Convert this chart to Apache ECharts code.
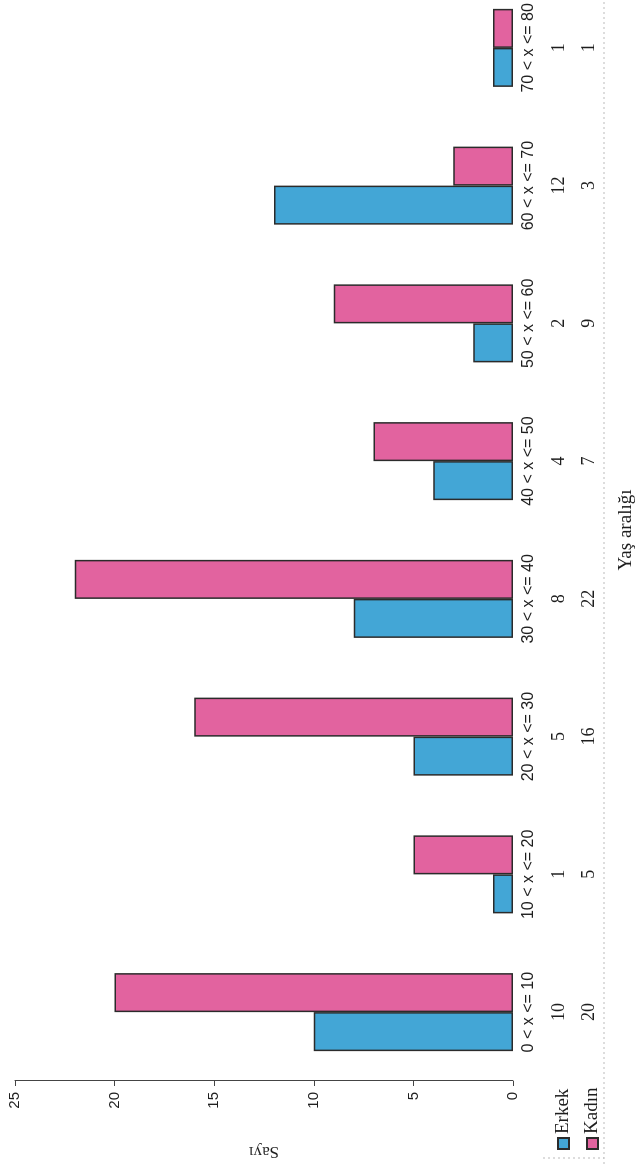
<!DOCTYPE html>
<html><head><meta charset="utf-8">
<script src="https://cdn.jsdelivr.net/npm/echarts@6/dist/echarts.min.js"></script>
<style>
html,body{margin:0;padding:0;background:#fff;overflow:hidden;width:638px;height:1164px;}
#chart{position:absolute;width:1164px;height:638px;left:-263px;top:263px;transform:rotate(-90deg);}
</style></head><body><div id="chart"></div>
<script>
const categories = ['0 < x <= 10','10 < x <= 20','20 < x <= 30','30 < x <= 40','40 < x <= 50','50 < x <= 60','60 < x <= 70','70 < x <= 80'];
const erkek = [10, 1, 5, 8, 4, 2, 12, 1];
const kadin = [20, 5, 16, 22, 7, 9, 3, 1];
const seriesNames = ['Erkek', 'Kadın'];
const valueMin = 0, valueMax = 25, valueStep = 5;

const ink = '#1e1e1e';
const chart = echarts.init(document.getElementById('chart'), null, {renderer: 'canvas', width: 1164, height: 638});
chart.setOption({
  backgroundColor: '#ffffff',
  animation: false,
  grid: {left: 83, top: 15, width: 1102, height: 498, outerBoundsMode: 'none', containLabel: false},
  legend: {
    orient: 'vertical', left: 9, top: 549, itemWidth: 11, itemHeight: 11, itemGap: 10, icon: 'rect',
    data: seriesNames,
    textStyle: {fontFamily: 'Liberation Serif', fontSize: 19, color: ink, padding: [0, 0, 0, -1]}
  },
  xAxis: {
    type: 'category', data: categories, position: 'bottom',
    axisLine: {show: false}, axisTick: {show: false},
    axisLabel: {
      interval: 0, margin: 1,
      formatter: function (v, i) { return '{c|' + v + '}\n{n|' + erkek[i] + '}\n{n|' + kadin[i] + '}'; },
      rich: {
        c: {fontFamily: 'Liberation Sans', fontSize: 16, lineHeight: 30, color: ink},
        n: {fontFamily: 'Liberation Serif', fontSize: 18, lineHeight: 30, color: ink}
      }
    },
    name: 'Yaş aralığı', nameLocation: 'middle', nameGap: 104,
    nameTextStyle: {fontFamily: 'Liberation Serif', fontSize: 19, color: ink}
  },
  yAxis: {
    type: 'value', min: valueMin, max: valueMax, interval: valueStep,
    axisLine: {show: true, lineStyle: {color: '#444', width: 1}},
    axisTick: {show: true, length: 5, lineStyle: {color: '#444'}},
    splitLine: {show: false},
    axisLabel: {fontFamily: 'Liberation Sans', fontSize: 15, margin: 11, color: ink},
    name: 'Sayı', nameLocation: 'middle', nameRotate: 90, nameGap: 62,
    nameTextStyle: {fontFamily: 'Liberation Serif', fontSize: 17, color: ink}
  },
  series: [
    {type: 'bar', name: seriesNames[0], data: erkek, barWidth: 39, barGap: '0%',
     itemStyle: {color: '#43A6D6', borderColor: '#2b2b2b', borderWidth: 1.5}},
    {type: 'bar', name: seriesNames[1], data: kadin, barWidth: 39, barGap: '0%',
     itemStyle: {color: '#E2639F', borderColor: '#2b2b2b', borderWidth: 1.5}}
  ],
  graphic: [
    {type: 'line', shape: {x1: 0, y1: 604, x2: 1164, y2: 604}, style: {stroke: '#bbbbbb', lineWidth: 1, lineDash: [2, 3]}, silent: true},
    {type: 'line', shape: {x1: 6, y1: 543, x2: 6, y2: 604}, style: {stroke: '#bbbbbb', lineWidth: 1, lineDash: [2, 3]}, silent: true}
  ]
});
</script></body></html>
